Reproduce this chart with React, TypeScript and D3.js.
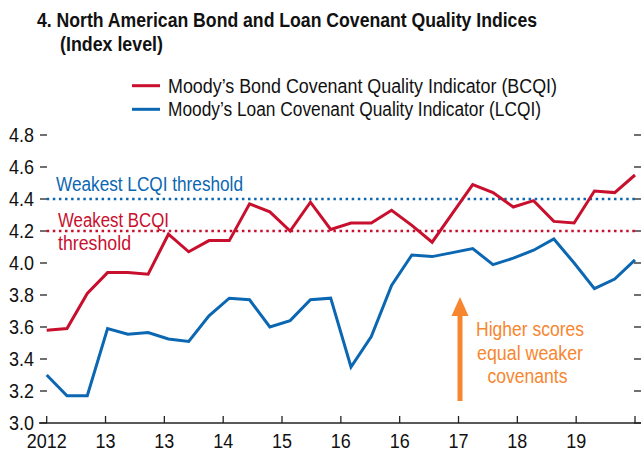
import React from "react";
import * as d3 from "d3";

const bcqi = [3.58, 3.59, 3.81, 3.94, 3.94, 3.93, 4.18, 4.07, 4.14, 4.14, 4.37, 4.32, 4.2, 4.38, 4.21, 4.25, 4.25, 4.33, 4.235, 4.13, 4.31, 4.49, 4.44, 4.35, 4.39, 4.26, 4.25, 4.45, 4.44, 4.55];
const lcqi = [3.3, 3.17, 3.17, 3.59, 3.555, 3.565, 3.525, 3.51, 3.67, 3.78, 3.77, 3.6, 3.64, 3.77, 3.78, 3.35, 3.54, 3.86, 4.05, 4.04, 4.065, 4.09, 3.99, 4.03, 4.08, 4.15, 4.0, 3.84, 3.9, 4.02];
const xTickLabels = ["2012", "13", "13", "14", "15", "16", "16", "17", "18", "19", ""];
const yTicks = [3.0, 3.2, 3.4, 3.6, 3.8, 4.0, 4.2, 4.4, 4.6, 4.8];
const lcqiThreshold = 4.4;
const bcqiThreshold = 4.2;

const RED = "#C8102E";
const BLUE = "#0B67B2";
const ORANGE = "#F7862F";
const FONT = "'Liberation Sans Narrow', 'Arial Narrow', 'Liberation Sans', sans-serif";

// condensed width estimate for numeric labels
const numWidth = (s: string) => s.split("").reduce((a, c) => a + (c === "." ? 5 : 10), 0);

export default function App() {
  const n = bcqi.length;
  const x = d3.scaleLinear().domain([0, n - 1]).range([46.7, 635]);
  const y = d3.scaleLinear().domain([3.0, 4.8]).range([423, 135]);
  const line = d3
    .line<number>()
    .x((_, i) => x(i))
    .y((d) => y(d));
  const tickCount = xTickLabels.length - 1;
  const xTicks = xTickLabels.map((l, i) => ({ label: l, pos: x((i * (n - 1)) / tickCount) }));

  return (
    <svg
      width={641}
      height={473}
      style={{ position: "absolute", left: 0, top: 0, background: "#fff" }}
      fontFamily={FONT}
    >
      <rect width={641} height={473} fill="#fff" />
      {/* Title */}
      <text x={37} y={27} fontSize={20} fontWeight="bold" fill="#111" textLength={500} lengthAdjust="spacingAndGlyphs">
        4. North American Bond and Loan Covenant Quality Indices
      </text>
      <text x={60} y={51} fontSize={20} fontWeight="bold" fill="#111" textLength={103} lengthAdjust="spacingAndGlyphs">
        (Index level)
      </text>

      {/* Legend */}
      <line x1={132} x2={160} y1={85.7} y2={85.7} stroke={RED} strokeWidth={3} />
      <text x={168} y={92.5} fontSize={20} fill="#111" textLength={389} lengthAdjust="spacingAndGlyphs">
        Moody’s Bond Covenant Quality Indicator (BCQI)
      </text>
      <line x1={132} x2={160} y1={109.3} y2={109.3} stroke={BLUE} strokeWidth={3} />
      <text x={168} y={116} fontSize={20} fill="#111" textLength={373} lengthAdjust="spacingAndGlyphs">
        Moody’s Loan Covenant Quality Indicator (LCQI)
      </text>

      {/* Y axis ticks & labels */}
      {yTicks.map((t) => (
        <g key={t}>
          <line x1={40} x2={47} y1={y(t)} y2={y(t)} stroke="#222" strokeWidth={1.3} />
          <line x1={634} x2={641} y1={y(t)} y2={y(t)} stroke="#222" strokeWidth={1.3} />
          <text x={9} y={y(t) + 7} fontSize={20} fill="#111" textLength={numWidth(t.toFixed(1))} lengthAdjust="spacingAndGlyphs">
            {t.toFixed(1)}
          </text>
        </g>
      ))}

      {/* X axis */}
      <line x1={39} x2={641} y1={423} y2={423} stroke="#222" strokeWidth={1.5} />
      {xTicks.map((t, i) => (
        <g key={i}>
          <line x1={t.pos} x2={t.pos} y1={416} y2={423} stroke="#222" strokeWidth={1.3} />
          {t.label && (
            <text x={t.pos - numWidth(t.label) / 2} y={448} fontSize={20} fill="#111" textLength={numWidth(t.label)} lengthAdjust="spacingAndGlyphs">
              {t.label}
            </text>
          )}
        </g>
      ))}

      {/* Thresholds */}
      <line x1={x(0)} x2={x(n - 1)} y1={y(lcqiThreshold)} y2={y(lcqiThreshold)} stroke={BLUE} strokeWidth={2.5} strokeDasharray="2.5 3.6" />
      <line x1={x(0)} x2={x(n - 1)} y1={y(bcqiThreshold)} y2={y(bcqiThreshold)} stroke={RED} strokeWidth={2.5} strokeDasharray="2.5 3.6" />
      <text x={56} y={191} fontSize={20} fill={BLUE} textLength={187} lengthAdjust="spacingAndGlyphs">
        Weakest LCQI threshold
      </text>
      <text x={58} y={226.5} fontSize={20} fill={RED} textLength={111} lengthAdjust="spacingAndGlyphs">
        Weakest BCQI
      </text>
      <text x={58} y={250} fontSize={20} fill={RED} textLength={73} lengthAdjust="spacingAndGlyphs">
        threshold
      </text>

      {/* Series */}
      <path d={line(bcqi) || ""} fill="none" stroke={RED} strokeWidth={3} strokeLinejoin="miter" />
      <path d={line(lcqi) || ""} fill="none" stroke={BLUE} strokeWidth={3} strokeLinejoin="miter" />

      {/* Annotation */}
      <line x1={460} x2={460} y1={401} y2={314} stroke={ORANGE} strokeWidth={5} />
      <polygon points="451.5,316 468.5,316 460,297" fill={ORANGE} />
      <text x={476} y={336} fontSize={20} fill={ORANGE} textLength={108} lengthAdjust="spacingAndGlyphs">
        Higher scores
      </text>
      <text x={477} y={359.5} fontSize={20} fill={ORANGE} textLength={106} lengthAdjust="spacingAndGlyphs">
        equal weaker
      </text>
      <text x={487.5} y={383} fontSize={20} fill={ORANGE} textLength={80} lengthAdjust="spacingAndGlyphs">
        covenants
      </text>
    </svg>
  );
}
